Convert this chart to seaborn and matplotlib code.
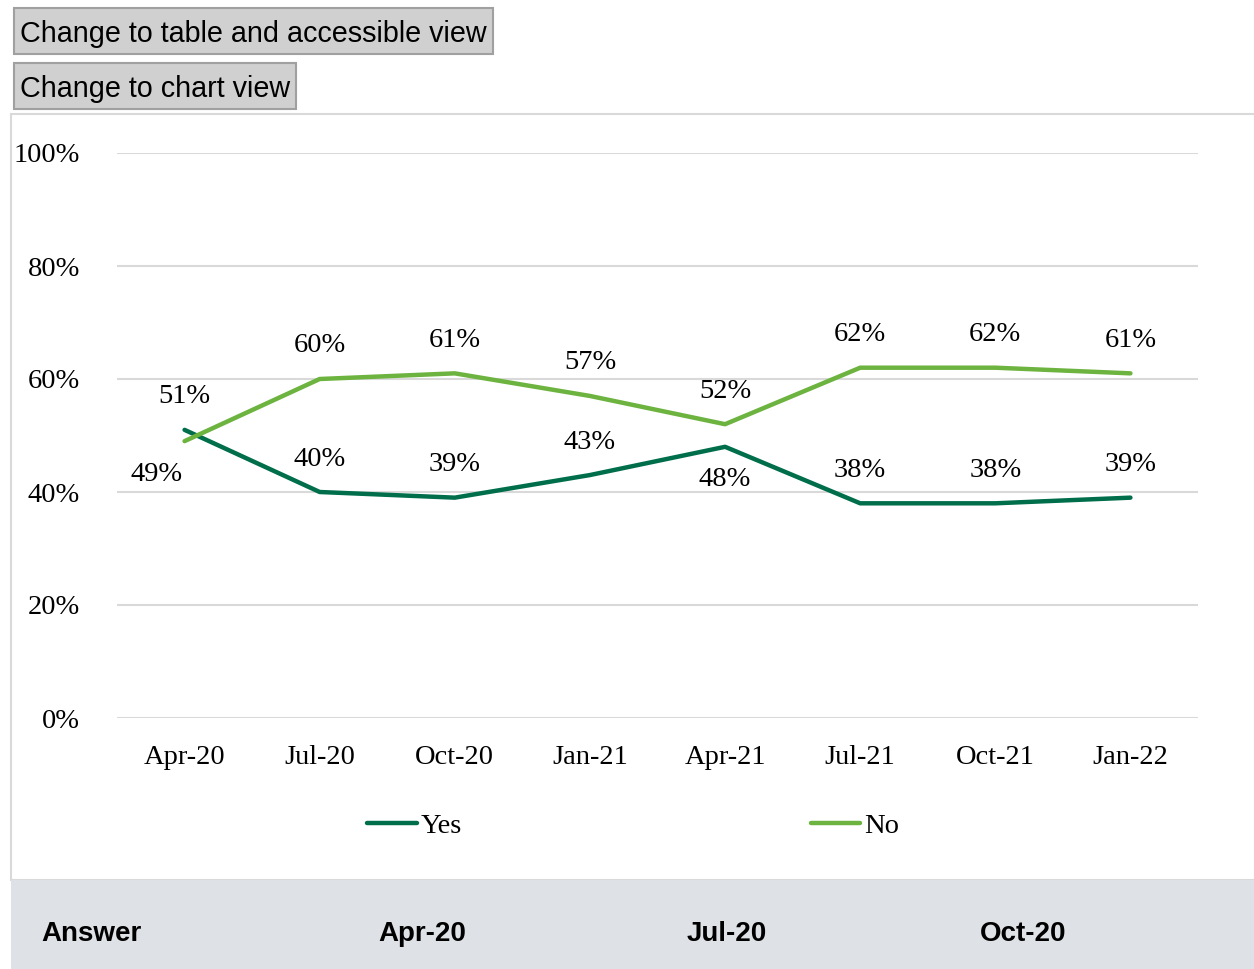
"""
Yes / No answers by survey wave, line chart with a table header strip.
"""
import matplotlib
matplotlib.use("Agg")
import matplotlib.pyplot as plt
from matplotlib.patches import Rectangle
import pandas as pd
import seaborn as sns

periods = ["Apr-20", "Jul-20", "Oct-20", "Jan-21", "Apr-21", "Jul-21", "Oct-21", "Jan-22"]
yes_vals = [51, 40, 39, 43, 48, 38, 38, 39]
no_vals = [49, 60, 61, 57, 52, 62, 62, 61]
table_header = ["Answer", "Apr-20", "Jul-20", "Oct-20"]

YES_COLOR = "#006e4b"
NO_COLOR = "#6db33f"
GRID = "#d9d9d9"
FS = 20.5

df = pd.DataFrame({
    "period": periods * 2,
    "value": yes_vals + no_vals,
    "answer": ["Yes"] * len(periods) + ["No"] * len(periods),
})

sns.set_theme(style="white")
plt.rcParams["font.family"] = ["Liberation Serif", "DejaVu Serif"]

W, H = 1254, 969
fig = plt.figure(figsize=(W / 100, H / 100), dpi=100)


def fx(px):
    return px / W


def fy(py):
    return 1 - py / H


# chart panel border and grey table header band
fig.patches.append(Rectangle((fx(11), fy(880)), fx(1260 - 11), fy(114) - fy(880),
                             transform=fig.transFigure, facecolor="white",
                             edgecolor=GRID, linewidth=1.5, zorder=-10))
fig.patches.append(Rectangle((fx(11), 0), fx(1260 - 11), fy(880),
                             transform=fig.transFigure, facecolor="#dee2e6",
                             edgecolor="none", zorder=-10))

# buttons
for label, y0, y1, x1 in [("Change to table and accessible view", 8, 54, 493),
                          ("Change to chart view", 63, 109, 296)]:
    fig.patches.append(Rectangle((fx(14), fy(y1)), fx(x1 - 14), fy(y0) - fy(y1),
                                 transform=fig.transFigure, facecolor="#d0d0d0",
                                 edgecolor="#a0a0a0", linewidth=1.5, zorder=-5))
    fig.text(fx(20), fy((y0 + y1) / 2 + 3), label, ha="left", va="center",
             fontsize=20.7, family=["Liberation Sans", "DejaVu Sans"], color="black")

ax = fig.add_axes([fx(117), fy(718), fx(1198 - 117), fy(153) - fy(718)])
ax.set_zorder(2)
ax.patch.set_alpha(0)

sns.lineplot(data=df, x="period", y="value", hue="answer", sort=False,
             palette={"Yes": YES_COLOR, "No": NO_COLOR}, linewidth=3.2,
             ax=ax, clip_on=False, solid_capstyle="round")

ax.set_ylim(0, 100)
ax.set_xlim(-0.5, len(periods) - 0.5)
ax.set_yticks(range(0, 101, 20))
ax.set_yticklabels([f"{v}%" for v in range(0, 101, 20)])
ax.grid(axis="y", color=GRID, linewidth=1.5)
ax.set_axisbelow(True)
for s in ax.spines.values():
    s.set_visible(False)
ax.tick_params(axis="y", length=0, pad=26.5, labelsize=FS, labelcolor="black")
ax.tick_params(axis="x", length=0, pad=19.5, labelsize=FS, labelcolor="black")
ax.set_xlabel("")
ax.set_ylabel("")

# data labels: above unless it is the lower line where they cross
for i, (y, n) in enumerate(zip(yes_vals, no_vals)):
    yes_off = -33 if (i == 4) else 33
    no_off = -33 if (i == 0) else 33
    no_dx = -28 if i == 0 else 0
    ax.annotate(f"{y}%", (i, y), xytext=(0, yes_off * 0.72), textcoords="offset points",
                ha="center", va="center", fontsize=FS, color="black")
    ax.annotate(f"{n}%", (i, n), xytext=(no_dx * 0.72, no_off * 0.72), textcoords="offset points",
                ha="center", va="center", fontsize=FS, color="black")

handles, labels = ax.get_legend_handles_labels()
leg = ax.legend(handles, labels, ncol=2, loc="center", frameon=False,
                bbox_to_anchor=(fx(633), fy(826)), bbox_transform=fig.transFigure,
                fontsize=FS, handlelength=1.75, handletextpad=0.12, columnspacing=12.25,
                borderaxespad=0, borderpad=0)
for t in leg.get_texts():
    t.set_color("black")
for ln in leg.get_lines():
    ln.set_solid_capstyle("round")

# table header strip
for label, x in zip(table_header, [41, 422, 727, 1023]):
    fig.text(fx(x), fy(934), label, ha="left" if label == "Answer" else "center",
             va="center", fontsize=20, fontweight="bold",
             family=["Liberation Sans", "DejaVu Sans"], color="black")

fig.savefig("out.png", dpi=100)
